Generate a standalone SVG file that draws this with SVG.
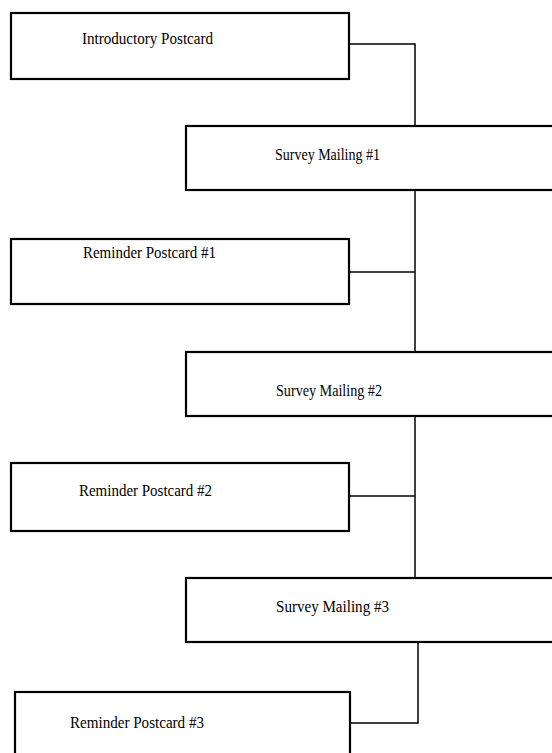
<svg xmlns="http://www.w3.org/2000/svg" width="552" height="753" viewBox="0 0 552 753">
<style>
.box{fill:#fff;stroke:#000;stroke-width:2.2}
.lbl{font-family:"Liberation Serif","Times New Roman",serif;font-size:16px;fill:#000}
.conn{fill:none;stroke:#000;stroke-width:1.5}
</style>
<rect width="552" height="753" fill="#fff"/>
<g id="connectors">
<polyline class="conn" points="349,44 415,44 415,126"/>
<line class="conn" x1="415" y1="190" x2="415" y2="352"/>
<line class="conn" x1="349" y1="272" x2="415" y2="272"/>
<line class="conn" x1="415" y1="416" x2="415" y2="578"/>
<line class="conn" x1="349" y1="496" x2="415" y2="496"/>
<polyline class="conn" points="418,642 418,723 350,723"/>
</g>
<g id="n1"><rect class="box" x="11" y="13" width="338" height="66"/><text class="lbl" x="82" y="44" textLength="131" lengthAdjust="spacingAndGlyphs">Introductory Postcard</text></g>
<g id="n2"><rect class="box" x="186" y="126" width="380" height="64"/><text class="lbl" x="275" y="160" textLength="105" lengthAdjust="spacingAndGlyphs">Survey Mailing #1</text></g>
<g id="n3"><rect class="box" x="11" y="239" width="338" height="65"/><text class="lbl" x="83" y="258" textLength="133" lengthAdjust="spacingAndGlyphs">Reminder Postcard #1</text></g>
<g id="n4"><rect class="box" x="186" y="352" width="380" height="64"/><text class="lbl" x="276" y="396" textLength="106" lengthAdjust="spacingAndGlyphs">Survey Mailing #2</text></g>
<g id="n5"><rect class="box" x="11" y="463" width="338" height="68"/><text class="lbl" x="79" y="496" textLength="133" lengthAdjust="spacingAndGlyphs">Reminder Postcard #2</text></g>
<g id="n6"><rect class="box" x="186" y="578" width="380" height="64"/><text class="lbl" x="276" y="612" textLength="113" lengthAdjust="spacingAndGlyphs">Survey Mailing #3</text></g>
<g id="n7"><rect class="box" x="15" y="692" width="335" height="80"/><text class="lbl" x="70" y="728" textLength="134" lengthAdjust="spacingAndGlyphs">Reminder Postcard #3</text></g>
</svg>
